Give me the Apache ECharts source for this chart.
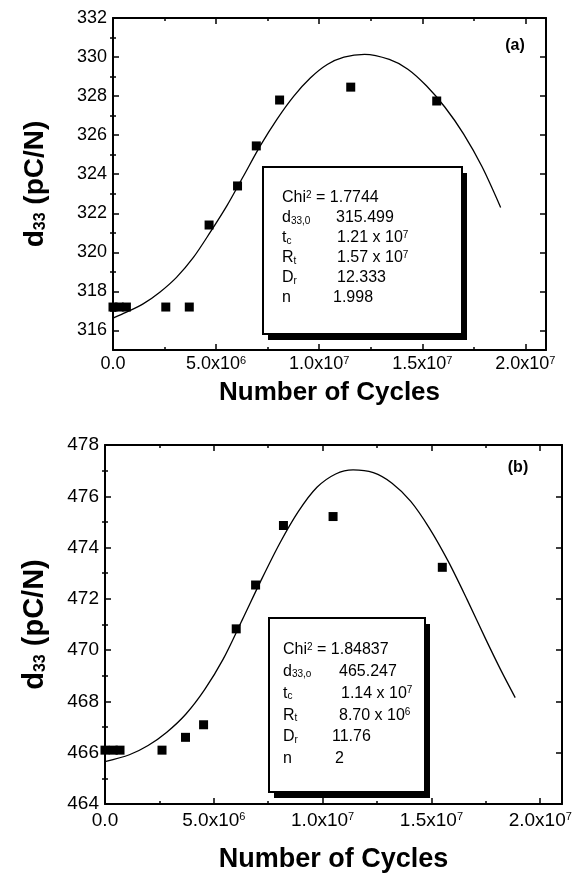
<!DOCTYPE html>
<html>
<head>
<meta charset="utf-8">
<script src="https://cdn.jsdelivr.net/npm/echarts@6.0.0/dist/echarts.min.js"></script>
<style>
  html, body { margin: 0; padding: 0; background: #fff; }
  #chart { width: 579px; height: 877px; }
</style>
</head>
<body>
<div id="chart"></div>
<script>
// panel (a) - measured d33 vs cycles
var cyclesA = [0, 3e5, 6.5e5, 2.56e6, 3.7e6, 4.66e6, 6.04e6, 6.95e6, 8.08e6, 1.153e7, 1.57e7];
var d33A = [317.2, 317.2, 317.2, 317.2, 317.2, 321.4, 323.4, 325.45, 327.8, 328.46, 327.75];
// panel (a) - fitted curve
var fitCyclesA = [0, 6.5e5, 1.46e6, 2.27e6, 3.08e6, 3.9e6, 4.71e6, 5.52e6, 6.33e6, 7.14e6, 7.95e6, 8.77e6,
  9.58e6, 1.039e7, 1.12e7, 1.22e7, 1.34e7, 1.43e7, 1.52e7, 1.61e7, 1.7e7, 1.79e7, 1.88e7];
var fitD33A = [316.63, 316.94, 317.36, 317.96, 318.72, 319.74, 321.02, 322.38, 323.91, 325.45, 326.81, 328.0,
  328.94, 329.62, 330.0, 330.14, 329.88, 329.38, 328.53, 327.43, 326.07, 324.38, 322.3];

// panel (b)
var cyclesB = [0, 3.8e5, 6.9e5, 2.62e6, 3.7e6, 4.53e6, 6.03e6, 6.92e6, 8.2e6, 1.048e7, 1.55e7];
var d33B = [466.1, 466.1, 466.1, 466.1, 466.6, 467.09, 470.83, 472.54, 474.86, 475.21, 473.23];
var fitCyclesB = [0, 1.12e6, 1.98e6, 2.84e6, 3.71e6, 4.57e6, 5.43e6, 6.29e6, 7.16e6, 8.02e6, 8.88e6, 9.74e6,
  1.06e7, 1.14e7, 1.233e7, 1.319e7, 1.405e7, 1.491e7, 1.578e7, 1.664e7, 1.75e7, 1.819e7, 1.885e7];
var fitD33B = [465.65, 465.92, 466.28, 466.8, 467.5, 468.45, 469.65, 471.15, 472.7, 474.15, 475.4, 476.35,
  476.87, 477.03, 476.92, 476.51, 475.8, 474.75, 473.45, 471.97, 470.42, 469.22, 468.15];

// ticks
var xMajor = [0, 5e6, 1e7, 1.5e7, 2e7];
var xMinor = [2.5e6, 7.5e6, 1.25e7, 1.75e7];
var yMajorA = [316, 318, 320, 322, 324, 326, 328, 330, 332];
var yMinorA = [317, 319, 321, 323, 325, 327, 329, 331];
var yMajorB = [464, 466, 468, 470, 472, 474, 476, 478];
var yMinorB = [465, 467, 469, 471, 473, 475, 477];

// fit parameters shown in the boxes
var statNamesA = ['Chi{sup|2} = 1.7744', 'd{sub|33,0}', 't{sub|c}', 'R{sub|t}', 'D{sub|r}', 'n'];
var statValuesA = ['', '315.499', '1.21 x 10{sup|7}', '1.57 x 10{sup|7}', '12.333', '1.998'];
var statNamesB = ['Chi{sup|2} = 1.84837', 'd{sub|33,o}', 't{sub|c}', 'R{sub|t}', 'D{sub|r}', 'n'];
var statValuesB = ['', '465.247', '1.14 x 10{sup|7}', '8.70 x 10{sup|6}', '11.76', '2'];

var FONT = 'Liberation Sans, Arial, Helvetica, sans-serif';
var X_MAX = 2.1e7;

function zip(xs, ys) {
  return xs.map(function (x, i) { return [x, ys[i]]; });
}

function sciLabel(v) {
  if (v === 0) return '0.0';
  var e = Math.floor(Math.log10(v) + 1e-9);
  var m = v / Math.pow(10, e);
  return m.toFixed(1) + 'x10{sup|' + e + '}';
}

// one tick-only axis (no line, no labels)
function tickAxis(g, pos, min, max, ticks, len) {
  return {
    type: 'value', gridIndex: g, position: pos, min: min, max: max,
    axisLine: { show: false }, splitLine: { show: false },
    axisLabel: { show: false },
    axisTick: { show: true, inside: true, length: len, customValues: ticks,
      lineStyle: { color: '#000', width: 1.5 } }
  };
}

function framedAxis(g, pos, min, max, ticks) {
  var a = tickAxis(g, pos, min, max, ticks, 6);
  a.axisLine = { show: true, onZero: false, lineStyle: { color: '#000', width: 2 } };
  return a;
}

var xAxes = [], yAxes = [];
function addPanel(g, yMin, yMax, yMajor, yMinor, s) {
  var xb = framedAxis(g, 'bottom', 0, X_MAX, xMajor);
  xb.axisLabel = {
    show: true, customValues: xMajor, formatter: sciLabel, margin: s.xLabelMargin,
    color: '#000', fontFamily: FONT, fontSize: s.labelSize,
    rich: { sup: { fontSize: 11, fontFamily: FONT, color: '#000', verticalAlign: 'top' } }
  };
  xb.name = 'Number of Cycles';
  xb.nameLocation = 'middle';
  xb.nameGap = s.xNameGap;
  xb.nameTextStyle = { fontFamily: FONT, fontWeight: 'bold', fontSize: s.nameSize, color: '#000' };
  xAxes.push(xb, tickAxis(g, 'bottom', 0, X_MAX, xMinor, 3),
    framedAxis(g, 'top', 0, X_MAX, xMajor), tickAxis(g, 'top', 0, X_MAX, xMinor, 3));

  var yl = framedAxis(g, 'left', yMin, yMax, yMajor);
  yl.axisLabel = { show: true, customValues: yMajor, margin: 6, color: '#000',
    fontFamily: FONT, fontSize: s.labelSize };
  yl.name = 'd{sub|33} (pC/N)';
  yl.nameLocation = 'middle';
  yl.nameGap = s.yNameGap;
  yl.nameTextStyle = { fontFamily: FONT, fontWeight: 'bold', fontSize: s.nameSize + 2, color: '#000',
    rich: { sub: { fontFamily: FONT, fontWeight: 'bold', fontSize: 16, color: '#000', verticalAlign: 'bottom' } } };
  yAxes.push(yl, tickAxis(g, 'left', yMin, yMax, yMinor, 3),
    framedAxis(g, 'right', yMin, yMax, yMajor), tickAxis(g, 'right', yMin, yMax, yMinor, 3));
}

addPanel(0, 315, 332, yMajorA, yMinorA, { labelSize: 18, nameSize: 26, xNameGap: 30, yNameGap: 64, xLabelMargin: 5 });
addPanel(1, 464, 478, yMajorB, yMinorB, { labelSize: 19, nameSize: 27, xNameGap: 42, yNameGap: 56, xLabelMargin: 7 });

function pointSeries(g, xs, ys) {
  return { type: 'scatter', xAxisIndex: 4 * g, yAxisIndex: 4 * g, data: zip(xs, ys),
    symbol: 'rect', symbolSize: 9, clip: false, itemStyle: { color: '#000', opacity: 1 }, z: 5 };
}
function fitSeries(g, xs, ys) {
  return { type: 'line', xAxisIndex: 4 * g, yAxisIndex: 4 * g, data: zip(xs, ys),
    smooth: 0.3, showSymbol: false, lineStyle: { color: '#000', width: 1.3 }, z: 3 };
}

// text box with fit results
var RICH = {
  sup: { fontSize: 10, fontFamily: FONT, fill: '#000', verticalAlign: 'top' },
  sub: { fontSize: 10, fontFamily: FONT, fill: '#000', verticalAlign: 'bottom' }
};
function statBox(box, names, values, rowTop, rowStep, nameX, valueX) {
  var els = [
    { type: 'rect', shape: { x: box.x + 5, y: box.y + 6, width: box.w, height: box.h },
      style: { fill: '#000' }, z: 10 },
    { type: 'rect', shape: { x: box.x, y: box.y, width: box.w, height: box.h },
      style: { fill: '#fff', stroke: '#000', lineWidth: 2 }, z: 11 }
  ];
  names.forEach(function (n, i) {
    var y = rowTop + rowStep * i;
    els.push({ type: 'text', x: nameX, y: y, z: 12,
      style: { text: n, fontFamily: FONT, fontSize: 16, fill: '#000', verticalAlign: 'middle', rich: RICH } });
    if (values[i]) {
      els.push({ type: 'text', x: valueX[i], y: y, z: 12,
        style: { text: values[i], fontFamily: FONT, fontSize: 16, fill: '#000', verticalAlign: 'middle', rich: RICH } });
    }
  });
  return els;
}

var graphics = []
  .concat(statBox({ x: 263, y: 167, w: 199, h: 167 }, statNamesA, statValuesA, 198, 20, 282,
    [0, 336, 337, 337, 337, 333]))
  .concat(statBox({ x: 269, y: 618, w: 156, h: 174 }, statNamesB, statValuesB, 650, 21.7, 283,
    [0, 339, 341, 339, 332, 335]))
  .concat([
    { type: 'text', x: 515, y: 46, z: 12, style: { text: '(a)', fontFamily: FONT, fontWeight: 'bold',
      fontSize: 16, fill: '#000', align: 'center', verticalAlign: 'middle' } },
    { type: 'text', x: 518, y: 468, z: 12, style: { text: '(b)', fontFamily: FONT, fontWeight: 'bold',
      fontSize: 16, fill: '#000', align: 'center', verticalAlign: 'middle' } }
  ]);

var chart = echarts.init(document.getElementById('chart'), null, { renderer: 'canvas' });
chart.setOption({
  animation: false,
  backgroundColor: '#fff',
  grid: [
    { left: 113, top: 18, width: 433, height: 332 },
    { left: 105, top: 445, width: 457, height: 359 }
  ],
  xAxis: xAxes,
  yAxis: yAxes,
  series: [
    fitSeries(0, fitCyclesA, fitD33A),
    pointSeries(0, cyclesA, d33A),
    fitSeries(1, fitCyclesB, fitD33B),
    pointSeries(1, cyclesB, d33B)
  ],
  graphic: graphics
});
</script>
</body>
</html>
